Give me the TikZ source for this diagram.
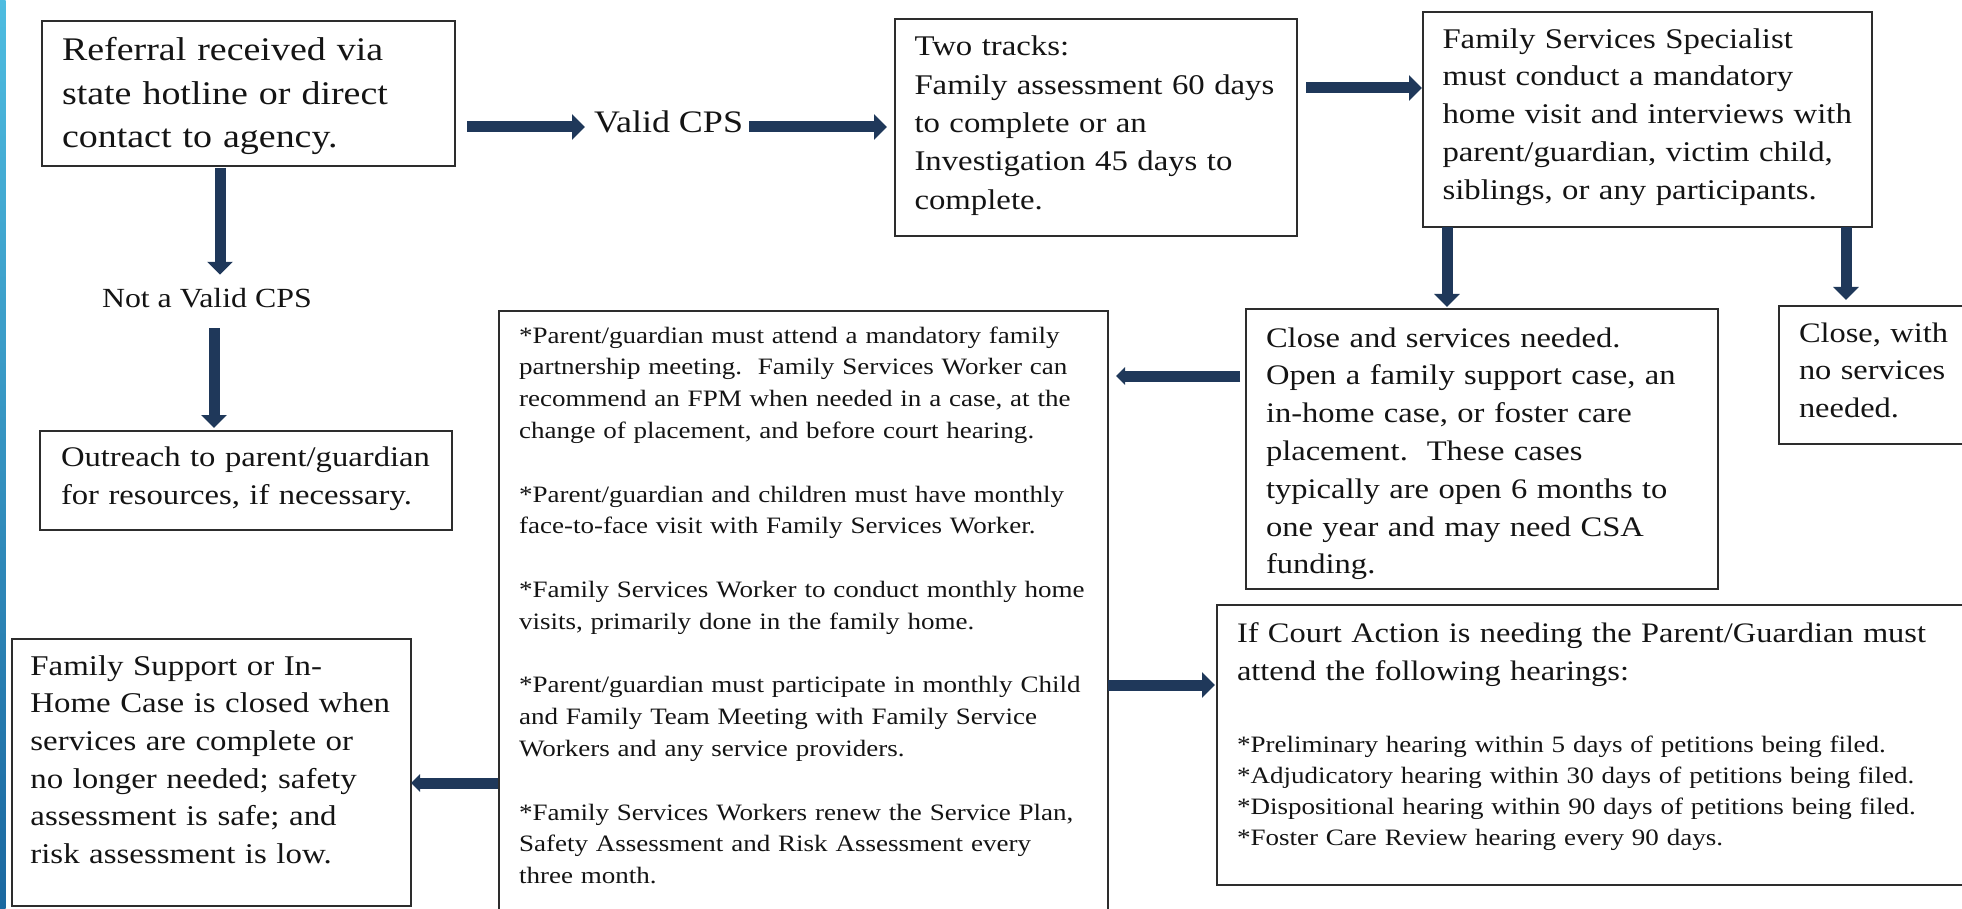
\documentclass[tikz,border=0pt]{standalone}
\usepackage{fontspec}
\setmainfont{Liberation Serif}[FakeStretch=1.15]
\usetikzlibrary{arrows.meta,calc}
\definecolor{navy}{RGB}{31,56,90}
\definecolor{boxline}{RGB}{45,45,45}
\definecolor{txt}{RGB}{20,20,20}
\definecolor{barTop}{RGB}{78,188,224}
\definecolor{barBot}{RGB}{27,104,160}
\newcommand{\fz}[2]{\fontsize{#1}{#2}\selectfont}
\newcommand{\ft}{\rule{0pt}{30pt}}
\begin{document}
\begin{tikzpicture}[x=1pt,y=-1pt,
  frame/.style={draw=boxline, line width=1.6pt, rectangle, inner sep=0pt, outer sep=0pt, anchor=north west},
  tbox/.style={anchor=north west, inner sep=0pt, outer sep=0pt, align=left, text=txt},
  fat/.style={draw=navy, line width=11pt, -{Triangle[length=13pt,width=25pt]}},
  slim/.style={draw=navy, line width=11pt, -{Triangle[length=9pt,width=17pt]}},
]
\useasboundingbox (0,0) rectangle (1962,909);
\shade[top color=barTop, bottom color=barBot] (0,0) rectangle (5.5,909);

% boxes
\node[frame, minimum width=413pt, minimum height=145pt] (ref) at (42,21) {};
\node[frame, minimum width=402pt, minimum height=217pt] (two) at (895,19) {};
\node[frame, minimum width=449pt, minimum height=215pt] (fss) at (1423,12) {};
\node[frame, minimum width=412pt, minimum height=99pt] (outr) at (40,431) {};
\node[frame, minimum width=609pt, minimum height=620pt] (mid) at (499,311) {};
\node[frame, minimum width=472pt, minimum height=280pt] (cs) at (1246,309) {};
\node[frame, minimum width=200pt, minimum height=138pt] (cw) at (1779,306) {};
\node[frame, minimum width=760pt, minimum height=280pt] (court) at (1217,605) {};
\node[frame, minimum width=399pt, minimum height=267pt] (fam) at (12,639) {};

% texts
\node[tbox, text width=420pt, font=\fz{33}{43.3}] (reft) at (62,31)
  {\ft Referral received via\\state hotline or direct\\contact to agency.};
\node[anchor=base west, inner sep=0pt, outer sep=0pt, text=txt, font=\fz{31.3}{40}] (valid) at (594,133) {Valid CPS};
\node[anchor=base west, inner sep=0pt, outer sep=0pt, text=txt, font=\fz{27.7}{36}] (notv) at (102,308) {Not a Valid CPS};
\node[tbox, text width=400pt, font=\fz{28.5}{38.3}] (twot) at (914.5,26)
  {\ft Two tracks:\\Family assessment 60 days\\to complete or an\\Investigation 45 days to\\complete.};
\node[tbox, text width=440pt, font=\fz{28.5}{37.7}] (fsst) at (1442.5,18.3)
  {\ft Family Services Specialist\\must conduct a mandatory\\home visit and interviews with\\parent/guardian, victim child,\\siblings, or any participants.};
\node[tbox, text width=400pt, font=\fz{28.4}{37.5}] (outrt) at (61,436.7)
  {\ft Outreach to parent/guardian\\for resources, if necessary.};
\node[tbox, text width=600pt, font=\fz{23.5}{31.8}] (midt) at (519,313)
  {\ft *Parent/guardian must attend a mandatory family\\partnership meeting.\ \ Family Services Worker can\\recommend an FPM when needed in a case, at the\\change of placement, and before court hearing.\\[31.8pt]
   {*}Parent/guardian and children must have monthly\\face-to-face visit with Family Services Worker.\\[31.8pt]
   {*}Family Services Worker to conduct monthly home\\visits, primarily done in the family home.\\[31.8pt]
   {*}Parent/guardian must participate in monthly Child\\and Family Team Meeting with Family Service\\Workers and any service providers.\\[31.8pt]
   {*}Family Services Workers renew the Service Plan,\\Safety Assessment and Risk Assessment every\\three month.};
\node[tbox, text width=460pt, font=\fz{28.3}{37.8}] (cst) at (1266,317)
  {\ft Close and services needed.\\Open a family support case, an\\in-home case, or foster care\\placement.\ \ These cases\\typically are open 6 months to\\one year and may need CSA\\funding.};
\node[tbox, text width=180pt, font=\fz{28.2}{37.5}] (cwt) at (1799,312)
  {\ft Close, with\\no services\\needed.};
\node[tbox, text width=720pt, font=\fz{28.2}{38}] (courth) at (1237,612)
  {\ft If Court Action is needing the Parent/Guardian must\\attend the following hearings:};
\node[tbox, text width=720pt, font=\fz{23.5}{31}] (courtb) at (1237,722)
  {\ft {*}Preliminary hearing within 5 days of petitions being filed.\\{*}Adjudicatory hearing within 30 days of petitions being filed.\\{*}Dispositional hearing within 90 days of petitions being filed.\\{*}Foster Care Review hearing every 90 days.};
\node[tbox, text width=380pt, font=\fz{28.6}{37.7}] (famt) at (30.4,645)
  {\ft Family Support or In-\\Home Case is closed when\\services are complete or\\no longer needed; safety\\assessment is safe; and\\risk assessment is low.};

% connectors
\coordinate (vy) at ($(valid.base west)+(0,-6)$);
\draw[fat] ($(ref.east |- vy)+(12,0)$) -- ($(valid.west |- vy)+(-9,0)$);
\draw[fat] ($(valid.east |- vy)+(6,0)$) -- ($(two.west |- vy)+(-8,0)$);
\coordinate (c3) at ($(two.north east)+(9,69)$);
\draw[fat] (c3) -- ($(c3 -| fss.west)+(-1,0)$);
\coordinate (c4) at ($(fss.south west)+(24,0)$);
\draw[fat] (c4) -- ($(c4 |- cs.north)+(0,-2)$);
\coordinate (c5) at ($(fss.south east)+(-26,0)$);
\draw[fat] (c5) -- ($(c5 |- cw.north)+(0,-6)$);
\coordinate (c6) at ($(cs.north west)+(-6,67)$);
\draw[slim] (c6) -- ($(c6 -| mid.east)+(8,0)$);
\coordinate (c7) at ($(court.north west)+(-2,80)$);
\draw[fat] (c7 -| mid.east) -- (c7);
\coordinate (c8) at ($(fam.north east)+(0,144)$);
\draw[slim] ($(c8 -| mid.west)+(-1,0)$) -- (c8);
\coordinate (c9) at ($(ref.south west)+(178,2)$);
\draw[fat] (c9) -- ($(c9 |- notv.north)+(0,-14)$);
\coordinate (c10) at ($(notv.south west)+(112,20)$);
\draw[fat] (c10) -- ($(c10 |- outr.north)+(0,-3)$);
\end{tikzpicture}
\end{document}
